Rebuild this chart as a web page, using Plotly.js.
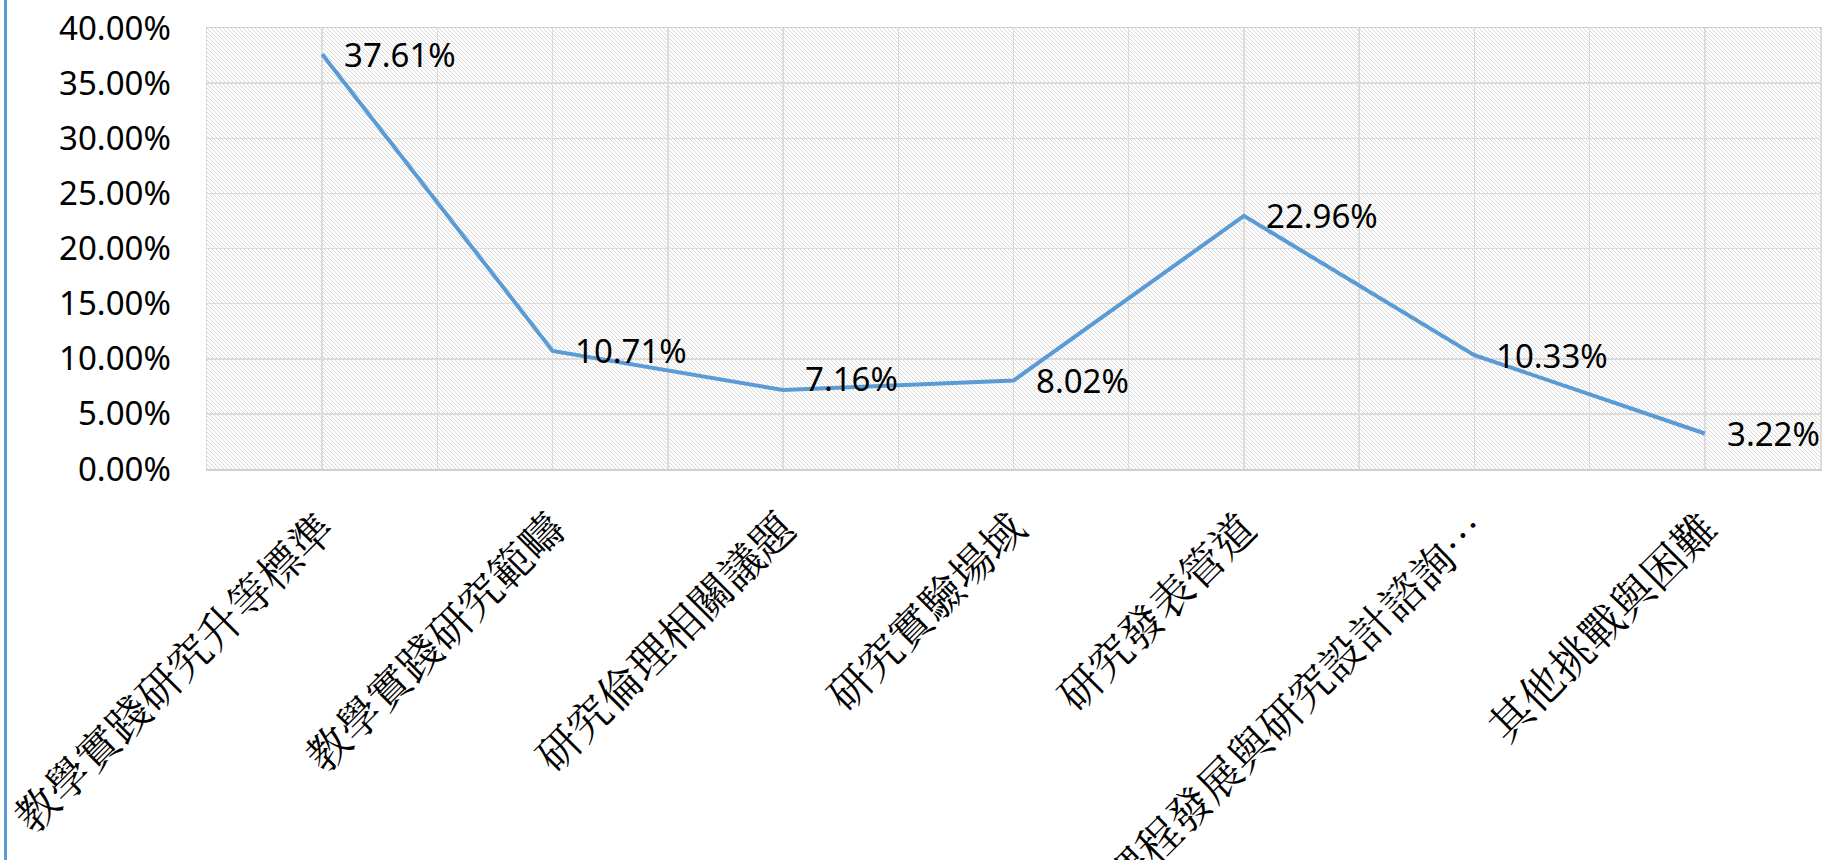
<!DOCTYPE html>
<html><head><meta charset="utf-8">
<script src="https://cdn.plot.ly/plotly-3.0.1.min.js"></script>
<style>
html,body{margin:0;padding:0;background:#fff;overflow:hidden}
#chart{width:1825px;height:860px;position:absolute;left:0;top:0}
#edge{position:absolute;left:4px;top:0;width:3px;height:860px;background:#5B9BD5}
</style></head><body>
<div id="chart"></div><div id="edge"></div>
<script>
// ---- data ----
const categories = ["教學實踐研究升等標準", "教學實踐研究範疇", "研究倫理相關議題", "研究實驗場域", "研究發表管道", "課程發展與研究設計諮詢…", "其他挑戰與困難"];
const values = [0.3761, 0.1071, 0.0716, 0.0802, 0.2296, 0.1033, 0.0322];
const valueLabels = ["37.61%", "10.71%", "7.16%", "8.02%", "22.96%", "10.33%", "3.22%"];

// ---- style ----
const labelYShift = [0, 0, 12, 0, 0, 0, 0];
const positions = categories.map((c, i) => i);
const numFont = {family: "'Noto Sans', 'Open Sans', sans-serif", size: 33, color: '#000'};
const cjkFont = {family: "'Noto Serif CJK TC', 'PMingLiU', 'Noto Sans CJK TC', serif", size: 43, color: '#000'};
const gridColor = '#dcdcdc';

const hatch = 'data:image/svg+xml;utf8,' + encodeURIComponent(
  '<svg xmlns="http://www.w3.org/2000/svg" width="1613" height="441" viewBox="0 0 1613 441" preserveAspectRatio="none">' +
  '<defs><pattern id="p" width="4" height="4" patternUnits="userSpaceOnUse">' +
  '<path d="M-1,-1 L5,5" stroke="#d8d8d8" stroke-width="1" shape-rendering="crispEdges"/>' +
  '</pattern></defs><rect width="1613" height="441" fill="url(#p)"/></svg>');

const trace = {
  x: positions, y: values, type: 'scatter', mode: 'lines',
  line: {color: '#5B9BD5', width: 4},
  hoverinfo: 'skip', showlegend: false
};

const annotations = values.map((v, i) => ({
  x: positions[i], y: v, xref: 'x', yref: 'y', text: valueLabels[i],
  showarrow: false, xanchor: 'left', yanchor: 'middle', xshift: 20, yshift: labelYShift[i],
  font: numFont
}));

const layout = {
  width: 1825, height: 860,
  margin: {l: 207, r: 5, t: 28, b: 391},
  paper_bgcolor: 'rgba(0,0,0,0)', plot_bgcolor: 'rgba(0,0,0,0)',
  showlegend: false,
  xaxis: {
    range: [-0.5, 6.5], tickmode: 'array', tickvals: positions, ticktext: categories,
    tickangle: -45, tickfont: cjkFont, ticks: '', ticklabelstandoff: 16, ticklabeloverflow: 'allow',
    showgrid: true, gridcolor: gridColor, gridwidth: 1.5,
    minor: {tickmode: 'linear', tick0: -0.5, dtick: 0.5, showgrid: true, gridcolor: gridColor, gridwidth: 1.5},
    showline: true, linecolor: '#d0d0d0', linewidth: 1.5, mirror: true,
    zeroline: false, fixedrange: true
  },
  yaxis: {
    range: [0, 0.4], dtick: 0.05, tick0: 0, tickformat: '.2%',
    tickfont: numFont, ticks: '', ticklabelstandoff: 28,
    showgrid: true, gridcolor: gridColor, gridwidth: 1.5,
    showline: true, linecolor: '#dcdcdc', linewidth: 1.5, mirror: true,
    zeroline: false, fixedrange: true
  },
  images: [{
    source: hatch, xref: 'paper', yref: 'paper', x: 0, y: 1, sizex: 1, sizey: 1,
    xanchor: 'left', yanchor: 'top', sizing: 'stretch', layer: 'below'
  }],
  annotations: annotations
};

Plotly.newPlot('chart', [trace], layout, {staticPlot: true, displayModeBar: false});
</script>
</body></html>
